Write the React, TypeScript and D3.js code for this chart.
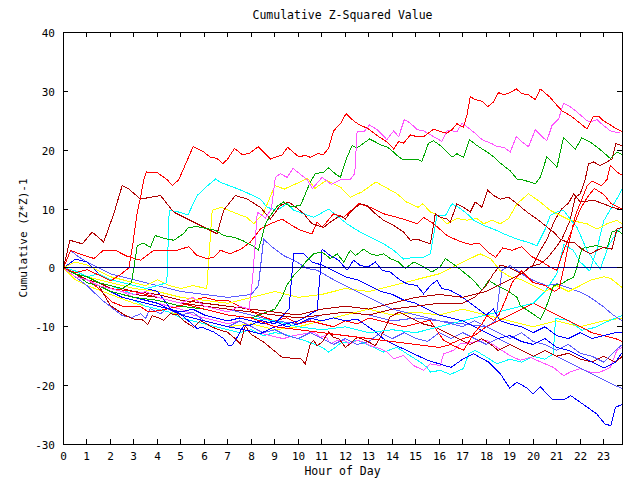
import React from "react";
import * as d3 from "d3";

type P = [number, number];

const TITLE = "Cumulative Z-Squared Value";
const X_LABEL = "Hour of Day";
const Y_LABEL = "Cumulative (Z*Z)-1";
const X_TICKS = d3.range(0, 24);
const Y_TICKS = [-30, -20, -10, 0, 10, 20, 30, 40];

const R1: P[] = [[0,0],[0.5,-0.8],[1,-0.3],[1.5,-1.2],[2,-2.2],[2.4,-1.2],[2.78,0],[2.95,4],[3.12,9],[3.28,12],[3.42,15],[3.53,16.3],[3.99,16.2],[4.41,15],[4.64,14],[4.91,15],[5.52,20.6],[5.97,19.7],[6.26,18.8],[6.54,18.6],[6.78,17.7],[6.97,18.4],[7.28,20.3],[7.6,19.3],[7.89,19.4],[8.29,20.6],[8.81,18.5],[9.31,19.2],[9.54,20.5],[10.01,18.9],[10.3,19.1],[10.51,18.8],[10.8,19.4],[11.08,19.3],[11.29,20.4],[11.5,23.3],[11.79,24.5],[12.03,26.2],[12.35,25],[12.64,24.2],[12.92,23.8],[13.35,22.5],[13.77,21.4],[14.06,20.2],[14.27,21.5],[14.48,21.2],[14.77,22.6],[15.05,22.3],[15.33,22.3],[15.76,23.6],[16.11,23.1],[16.33,22.9],[16.54,23.5],[16.75,24.5],[17.03,23.9],[17.18,26],[17.32,29.1],[17.53,28.6],[17.82,28.3],[18.06,27.4],[18.31,28.2],[18.52,29.8],[18.74,29.4],[19.02,29.8],[19.28,30.4],[19.52,29.6],[19.8,29.4],[20.09,28.6],[20.3,30.4],[20.69,29.1],[20.86,28.3],[21.22,26.7],[21.57,25.9],[21.93,24.8],[22.29,23.6],[22.57,25.8],[22.78,25.8],[22.99,25],[23.28,24.3],[23.56,23.6],[23.77,23.2]];

const M1: P[] = [[0,0],[0.5,-1.5],[1,-2],[1.5,-3],[2,-3.5],[2.5,-4],[3,-4.5],[3.5,-4],[4,-5],[4.5,-5.5],[5,-6],[5.5,-5],[6,-6.5],[6.5,-7],[7,-7.5],[7.5,-6.5],[7.9,-7],[8.05,-2],[8.25,9.5],[8.6,8.5],[8.85,10],[9.02,15.4],[9.23,16],[9.52,15.4],[9.77,16.9],[10.06,16],[10.37,15],[10.6,13.5],[11.01,15.4],[11.4,14.2],[11.8,15],[12.2,15],[12.4,16],[12.5,23.1],[12.78,23.1],[13.03,24.3],[13.35,23.5],[13.77,21.8],[14.06,23.3],[14.27,22.3],[14.51,25.2],[14.77,24.6],[15.05,23.5],[15.33,23.3],[15.76,22.3],[16.11,21.5],[16.33,23.3],[16.54,23.3],[16.75,23.1],[16.97,24.6],[17.46,23.1],[17.82,21.8],[18.24,21.1],[18.46,20.6],[18.74,20.5],[19.02,19.7],[19.28,22.3],[19.52,21.4],[19.8,20.6],[20.09,23.5],[20.37,22.3],[20.58,21.6],[20.8,24.2],[21.08,25.3],[21.29,28],[21.57,27.4],[21.86,26.5],[22.29,25],[22.43,24.8],[22.71,25.2],[22.99,24.2],[23.28,23.3],[23.7,22.9]];

const G1: P[] = [[0,0],[0.5,-1],[1,-1.5],[1.5,-2.5],[2,-3],[2.5,-3.5],[2.9,-2.5],[3.14,3.8],[3.4,4.2],[3.7,3.5],[3.9,5.5],[4.3,5],[4.7,4.7],[5.1,5.8],[5.33,6.9],[5.69,7],[6.47,6.4],[6.82,5.5],[7.25,5.2],[7.6,4.7],[8.03,3.8],[8.3,3],[8.6,7.5],[8.81,8.9],[9.1,10.5],[9.37,11.2],[9.66,10.4],[10.09,10.6],[10.51,14.6],[10.72,16],[10.86,16.1],[11.08,16.3],[11.29,17],[11.57,16],[11.79,15.4],[12.07,18.8],[12.29,20.8],[12.5,20.4],[12.78,21.2],[13.03,21.9],[13.28,21.4],[13.56,20.8],[13.77,20.6],[13.99,19.9],[14.2,19.1],[14.41,18.5],[14.77,18.4],[15.05,18.5],[15.26,18.1],[15.54,21.2],[15.76,21.6],[16.04,20.8],[16.44,19.3],[16.54,18.8],[16.75,19.4],[17.03,18.8],[17.29,21.8],[17.6,20.8],[18.03,19.7],[18.31,18.9],[18.6,17.8],[19.02,16.5],[19.33,15],[19.45,15.1],[20.09,14.3],[20.3,15.4],[20.58,18.9],[21.01,17.1],[21.29,22.2],[21.79,20.2],[22.07,22.1],[22.43,21.4],[22.85,20.1],[23.28,18.6],[23.56,19.7],[23.77,19.3]];

const DR1: P[] = [[0,0],[0.27,4.7],[0.8,4.1],[1.22,6.1],[1.71,4.4],[2.14,9.2],[2.5,14],[2.78,13.4],[3.28,11.7],[4.13,12.3],[4.69,9.5],[5.54,7.8],[6.54,5.8],[6.82,9.8],[7.32,12.3],[7.82,11.7],[8.38,10.3],[8.81,8.3],[9.23,10.6],[9.59,11.2],[9.8,10.6],[10.23,9.2],[10.58,7.5],[10.8,7.2],[11.08,6.9],[11.36,7.8],[11.79,8.9],[12,8.3],[12.29,9.8],[12.64,10.9],[12.92,10.6],[13.28,9.2],[13.63,8.1],[14.06,7.2],[14.48,6.1],[14.77,4.7],[15.05,4.9],[15.4,4.4],[15.62,4.1],[15.83,9.2],[16.04,8.6],[16.33,8.3],[16.47,7.8],[16.75,10.9],[17.03,10.3],[17.32,9.5],[17.53,11.2],[17.82,10.3],[18.06,13.2],[18.31,12.3],[18.6,11.7],[18.95,12],[19.31,10.9],[19.73,9.5],[20.16,8.3],[20.51,7.2],[20.86,6.1],[21.15,4.9],[21.43,4.4],[21.72,4.4],[22.07,3.2],[22.43,2.4],[22.71,3],[22.99,3.5],[23.35,3.2],[23.56,6.6],[23.77,6.9]];

const R2: P[] = [[0,0],[0.3,3],[0.6,2.5],[1.3,1.6],[1.7,3],[2.2,3],[2.7,2],[3.28,1.3],[3.84,3],[4.84,3],[5.33,3.6],[5.69,2.1],[6.11,1.6],[6.4,1.8],[6.68,3],[7.1,2.4],[7.6,3.3],[7.96,4.4],[8.38,6.6],[8.81,7.5],[9.31,8.3],[9.73,7.2],[10.09,6.4],[10.58,5.8],[10.8,7.8],[11.01,6.9],[11.5,9.2],[11.93,8.6],[12.57,10.9],[13.06,10.3],[13.63,9.2],[14.2,8.6],[14.63,8.1],[15.05,7.5],[15.33,8.6],[15.76,7.5],[16.33,5.5],[16.47,5.2],[16.9,4.5],[17.3,4],[17.7,4.2],[18.1,2.6],[18.4,1.8],[18.7,3.4],[19.1,3],[19.5,3.6],[19.9,2],[20.3,1.2],[20.7,0.2],[21,-0.4],[21.3,3],[21.6,6],[22,10],[22.3,12],[22.6,13.5],[23,12.5],[23.3,11],[23.6,10.4],[23.8,10]];

const DR2: P[] = [[0,0],[0.5,-1],[1,-2],[1.5,-2.5],[2,-3.5],[3,-4.5],[4,-5],[5,-6],[6,-6.5],[7,-7],[8,-7.5],[9,-8],[10,-8.5],[11,-8],[12,-7.5],[13,-8],[14,-7],[15,-6.5],[16,-6],[17,-6],[17.5,-5],[18,-3],[18.3,-1],[18.6,0.5],[19,0],[19.5,-1],[19.87,0.2],[20.3,0.7],[20.58,1.6],[20.87,3],[21.22,4.9],[21.57,8.1],[21.79,12],[22,12.6],[22.21,15],[22.35,17.7],[22.57,18],[22.85,17.4],[23.14,18],[23.35,18.5],[23.52,21.1],[23.77,20.8]];

const R3: P[] = [[0,0],[0.5,-1],[1,-1.5],[1.5,-2.5],[2,-3.5],[3,-4],[4,-5],[5,-6],[6,-7],[7,-8],[8,-8.5],[9,-10],[10,-10.5],[11,-11],[12,-11.5],[13,-12],[14,-12.5],[15,-13],[16,-13.5],[16.5,-13],[17.03,-14],[17.5,-11],[17.82,-9.5],[18.03,-8.1],[18.31,-8.9],[18.52,-8.1],[18.81,-5.5],[19.1,-2.5],[19.5,-0.5],[20,-2.5],[20.5,-3],[20.9,-4],[21.1,-3.5],[21.3,0],[21.5,4],[21.8,9],[22,11],[22.3,14],[22.5,14.8],[22.9,14],[23.14,15],[23.28,17.4],[23.56,16.3],[23.8,15.7]];

const DR3: P[] = [[0,0],[0.5,-1.5],[1,-2],[2,-3],[3,-4],[4,-4.5],[5,-5.5],[6,-6],[7,-6.5],[8,-7],[9,-7.5],[10,-8],[11,-7],[12,-6.5],[13,-7],[14,-6],[15,-5],[16,-4.5],[17,-5],[18,-4],[18.5,-3],[19,-2],[19.5,-1],[20,0.5],[20.3,3],[20.6,5],[20.9,8],[21.2,10],[21.5,11],[21.72,12.6],[22,11.2],[22.57,11.5],[22.99,10.9],[23.35,10.3],[23.56,10.1],[23.8,9.8]];

const G2: P[] = [[0,0],[0.5,-1],[1,-2.5],[1.5,-3],[2,-4],[3,-5],[4,-5.5],[5,-6.5],[6,-7],[7,-8],[8,-8.5],[9,-7],[9.3,-5],[9.5,-3],[9.8,-1.3],[10.09,-0.1],[10.37,1.3],[10.65,2.4],[11.01,2.7],[11.36,1.6],[11.65,2.4],[11.93,1],[12.21,3],[12.43,2.1],[12.78,3.2],[13.06,2.4],[13.35,2.1],[13.63,2.4],[13.91,1.6],[14.27,1],[14.55,-0.1],[14.91,1],[15.33,0.2],[15.69,-0.7],[16.04,0.2],[16.26,1.6],[16.47,1],[16.75,0.2],[17.03,-0.7],[17.46,-2.1],[17.82,-3.8],[18.1,-2.1],[18.45,-3],[18.88,-3.8],[19.31,-5],[19.45,-6.4],[19.87,-7.5],[20.3,-8.7],[20.5,-7.2],[20.65,-5.5],[20.86,-3],[21.22,-2.7],[21.43,-2.1],[21.72,-1.6],[21.86,0.2],[22.07,3.3],[22.43,3.6],[22.71,3.8],[23.14,3.3],[23.35,6.1],[23.56,6.4],[23.8,5.8]];

const C1: P[] = [[0,0],[0.5,-0.5],[1,-1.5],[1.5,-1],[2,-2],[2.5,-2.5],[3,-3],[3.5,-3.5],[4,-3],[4.4,-2.5],[4.5,9.8],[4.9,9.5],[5.3,9],[5.69,12.3],[6,13.5],[6.47,15.1],[6.7,14.5],[7.25,13.7],[7.74,12.9],[8.38,11.7],[8.67,10.3],[9.09,9.8],[9.52,10.9],[9.8,9.8],[10.23,9.2],[10.65,8.6],[11.29,10],[12.07,7.5],[12.5,6.4],[13.06,5.2],[13.63,4.1],[14.06,3],[14.48,1.5],[14.91,1.8],[15.33,1.8],[15.62,2.4],[15.9,8.9],[16.26,8.9],[16.54,10.9],[16.82,10.3],[17.18,9.2],[17.5,8],[17.89,7.2],[18.31,6.6],[18.74,5.8],[19.31,4.9],[19.73,4.4],[20.16,3.8],[20.51,6.6],[20.72,8.9],[21,9.5],[21.29,9.8],[21.57,8.3],[21.86,6.9],[22.29,3],[22.57,1.3],[22.85,-0.2],[23.21,3.8],[23.56,6.1],[23.77,6.9]];

const C2: P[] = [[0,0],[0.5,-1],[1,-2],[2,-3],[3,-4.5],[4,-5],[5,-6],[6,-7],[7,-8],[8,-8.5],[9,-9],[10,-10],[11,-10.5],[12,-10],[13,-11],[14,-10.5],[15,-11],[16,-10],[17,-9],[18,-8],[19,-7],[20,-6],[20.5,-4],[21,-1],[21.3,4],[21.7,3],[22,1],[22.4,-0.5],[22.7,3],[23,8],[23.3,10],[23.6,12],[23.8,13.5]];

const Y1: P[] = [[0,0],[0.5,1],[1,0.5],[1.5,-0.5],[2,-1.5],[2.5,-2],[3,-2.5],[3.5,-3],[4,-2],[4.5,-3],[5,-3.5],[5.5,-3],[6.1,-3.5],[6.33,9.8],[6.7,10.3],[7.39,9.2],[7.8,8.6],[8.1,7.5],[8.5,9.2],[9,14],[9.4,13.4],[9.9,14.3],[10.4,15.2],[10.7,13.5],[11.2,14.9],[11.8,13.7],[12.2,12],[12.7,12.9],[13.3,14.6],[13.8,13.5],[14.2,12.6],[14.6,11.2],[15.1,10.3],[15.3,10.9],[15.62,9.5],[15.97,8.9],[16.33,7.5],[16.75,8.4],[17.18,8.1],[17.6,8.4],[17.89,7.5],[18.24,8.1],[18.6,7.5],[18.95,8.4],[19.31,10.9],[19.8,12.6],[20.3,11.2],[20.72,9.8],[21.01,9.2],[21.57,8.1],[22.29,7.5],[22.71,6.6],[23.14,7.5],[23.56,8.1],[23.77,7.5]];

const Y2: P[] = [[0,0],[0.5,-1],[1,-1.5],[2,-2.5],[3,-3.5],[4,-4],[5,-5],[6,-5.5],[7,-6],[8,-5],[9,-4],[10,-5],[11,-4.5],[12,-3.5],[13,-4],[14,-3],[15,-2],[16,-1],[17,1],[17.74,2.4],[18.2,1.5],[18.6,-0.5],[19,-1.5],[19.5,-2],[20,-3],[20.5,-4],[21,-3],[21.5,-4],[22,-3],[22.5,-2],[23,-1.5],[23.3,-1.8],[23.77,-3.3]];

const Y3: P[] = [[0,0],[0.5,-2],[1,-3],[2,-4.5],[3,-6],[4,-7],[5,-8],[6,-9],[7,-10],[8,-9.5],[9,-10.5],[10,-10],[11,-9],[12,-8],[13,-7],[14,-8],[15,-7.5],[16,-8],[17,-7],[18,-8],[19,-9],[20,-10],[21,-9],[22,-10],[23,-9],[23.8,-8.5]];

const LB1: P[] = [[0,0],[0.5,-1.5],[1,-3],[1.65,-5.5],[2.5,-8.1],[2.92,-8.4],[3.28,-7.8],[3.49,-8.6],[3.7,-6.9],[4.13,-7.8],[4.41,-6.9],[5,-8],[5.5,-7.5],[6,-9],[6.5,-9.5],[7,-10],[7.5,-9],[8,-10],[8.5,-11],[9,-10.5],[9.5,-11.5],[10,-12],[10.5,-11],[11,-12],[11.5,-13],[12,-12],[12.5,-13],[13,-12.5],[13.5,-11],[14,-12],[14.5,-11],[15,-12],[15.5,-12.5],[16,-11],[16.5,-12],[17,-11],[17.5,-12],[18,-13],[18.5,-12],[19,-13],[19.5,-14],[20,-15],[20.5,-14],[21,-15],[21.5,-16],[22,-17],[22.5,-18],[23,-19],[23.5,-20],[23.8,-20.5]];

const LB2: P[] = [[0,0],[0.3,3],[0.6,2],[1,1],[1.5,0],[2,-1],[3,-2],[4,-3],[5,-4],[6,-4.5],[7,-5],[8,-4.5],[8.3,-3],[8.52,4.9],[8.81,3.8],[9.37,2.1],[9.94,1],[10.37,-0.1],[10.8,-0.4],[11.5,-2],[12,-3],[12.5,-4],[13,-5],[13.5,-6],[14,-7],[14.5,-7.5],[15,-8],[15.5,-8.5],[16,-9],[16.5,-9.5],[17,-10],[17.5,-9],[18,-10],[18.5,-11],[19,-12],[19.5,-11],[20,-12.5],[20.5,-13],[21,-14],[21.5,-13],[22,-14.5],[22.5,-15],[23,-16],[23.5,-14],[23.8,-13]];

const LB3: P[] = [[0,0],[1,-2],[2,-3],[3,-4],[4,-5],[5,-6],[6,-6.5],[7,-7],[8,-8],[9,-9],[10,-9.5],[11,-8],[12,-7.5],[13,-8],[14,-9],[15,-8.5],[16,-9],[17,-9.5],[18,-10],[18.4,-9],[18.67,-0.4],[19.02,0.4],[19.31,-0.4],[19.73,-1.6],[20.16,-2.4],[20.58,-3],[21.01,-2.7],[21.57,-3.5],[22,-4.1],[22.43,-5],[22.71,-5.8],[22.99,-6.6],[23.4,-8],[23.8,-9]];

const B1: P[] = [[0,0],[0.5,-1],[1,-2.5],[1.5,-3],[2,-4],[2.5,-5],[3,-5.5],[3.5,-6],[4,-6.5],[4.5,-7],[5,-7.5],[5.5,-7],[6,-8],[6.5,-8.5],[7,-9],[7.5,-8.5],[8,-9],[8.5,-9.5],[9,-9],[9.5,-10],[10,-9.5],[10.5,-8.5],[11,-9],[11.5,-8.5],[12,-9],[12.5,-8.7],[13.2,-10.6],[13.7,-12.3],[14.6,-14],[15.5,-15.7],[16.5,-16.9],[17,-15.5],[17.46,-14.6],[18.1,-16],[18.6,-18],[19,-20.4],[19.3,-19.4],[19.73,-20.4],[20,-21.4],[20.3,-20.2],[20.8,-22.3],[21.3,-22.4],[21.6,-21.7],[22.1,-23.1],[22.7,-24.8],[23.05,-26.5],[23.3,-26.8],[23.5,-23.7],[23.77,-23.2]];

const B2: P[] = [[0,0],[0.5,1.5],[1,1],[1.5,-1],[2,-2],[3,-3],[4,-4],[4.55,-6.9],[4.98,-7.8],[5.69,-10.3],[5.9,-10.1],[6.4,-10.9],[6.82,-12],[7.03,-13.2],[7.18,-13.1],[7.32,-12.3],[7.67,-9.8],[7.89,-9.8],[8.1,-9.5],[8.38,-8.9],[9,-9.5],[9.6,-7],[9.8,2.4],[10.23,2.4],[10.58,1],[11,0.5],[11.5,-0.5],[12,-1.5],[12.5,-2],[13,-3],[13.5,-4],[14,-4.5],[14.5,-5.5],[15,-6],[15.5,-7],[16,-8],[16.5,-8.5],[17,-9],[17.5,-10],[18,-11],[18.5,-12],[19,-11.5],[19.5,-12.5],[20,-13],[20.5,-12],[21,-13.5],[21.5,-14],[22,-15],[22.5,-16],[23,-17],[23.5,-16],[23.8,-14.3]];

const B3: P[] = [[0,0],[1,-2],[2,-4],[3,-5],[4,-6],[5,-8],[6,-9],[7,-10],[7.82,-10.6],[8.35,-11.2],[9,-10],[10,-9],[10.8,-7.2],[11.01,3.2],[11.36,2.1],[11.72,1.3],[12.07,-0.4],[12.35,1.3],[12.64,0.4],[12.99,0.2],[13.28,1],[13.56,-0.4],[13.91,-0.7],[14.34,-2.1],[14.63,-2.7],[15.05,-3],[15.33,-4.4],[15.62,-3],[15.9,-2.1],[16.11,-3.5],[16.47,-3.8],[17,-5],[17.5,-6.5],[18,-8],[18.3,-7],[18.6,-9],[19,-9.5],[19.5,-10],[20,-11],[20.5,-10],[21,-11.5],[21.5,-12],[22,-11],[22.5,-12],[23,-11.5],[23.5,-11],[23.8,-10.9]];

const M2: P[] = [[0,0],[0.5,-1],[1,-2],[1.5,-2.5],[2,-3.5],[2.5,-4],[3,-5],[3.5,-5.5],[4,-6],[4.5,-6.5],[5,-7],[5.5,-8],[6,-8.5],[6.5,-9],[7,-9.5],[7.5,-9],[7.96,-9.8],[8.52,-11.2],[9.09,-11.8],[9.37,-12],[9.8,-11.5],[10.23,-11.2],[10.65,-10.9],[10.94,-11.8],[11.15,-11.5],[11.36,-12.9],[11.65,-12.3],[11.93,-12.3],[12.2,-12.9],[12.5,-12.3],[12.78,-12.6],[13.06,-13.2],[13.49,-13.7],[13.77,-14.3],[14.06,-15.4],[14.48,-14.9],[14.91,-16.6],[15.33,-17.4],[15.62,-16.3],[16.04,-16.6],[16.18,-14.6],[16.6,-14],[16.89,-12.9],[17.46,-12.6],[18.03,-12.3],[18.46,-13.5],[19.02,-14.9],[19.45,-15.7],[19.87,-15.2],[20.16,-15.7],[20.51,-16.3],[20.86,-16.9],[21.29,-18.3],[21.57,-17.7],[22,-17.1],[22.43,-17.7],[22.85,-17.7],[23.28,-16.9],[23.56,-14],[23.77,-13.5]];

const C3: P[] = [[0,0],[0.5,-1.5],[1,-2],[1.5,-3],[2,-4],[2.5,-5],[3,-5.5],[3.5,-6.5],[4,-7],[4.5,-7.5],[5,-8.5],[5.5,-9],[6,-9.5],[6.5,-10],[7,-10.5],[7.5,-11],[8,-10.5],[8.5,-11.5],[9,-11],[9.37,-11.2],[9.8,-11.8],[10.23,-12.3],[10.65,-12.9],[11.01,-13.5],[11.29,-14.3],[11.57,-13.5],[11.86,-12.6],[12.2,-12.6],[12.5,-12.3],[12.85,-12.9],[13.2,-13.5],[13.63,-14.3],[14.2,-13.5],[14.63,-14.6],[15.19,-16],[15.48,-16.9],[15.62,-17.7],[16.04,-17.4],[16.47,-18.1],[17.03,-17.1],[17.25,-14.6],[17.53,-14],[18.03,-15.2],[18.46,-16.3],[19,-15.5],[19.5,-16],[20,-15],[20.5,-15.5],[20.85,-14.6],[20.95,-8.6],[21.5,-8.9],[22.07,-10.6],[22.65,-10.1],[23.1,-9.2],[23.77,-8.1]];

const DR4: P[] = [[0,0],[0.5,-1],[1,-2],[1.5,-3],[2,-6.4],[2.64,-8.1],[3.06,-8.8],[3.35,-8.8],[3.59,-9.6],[3.77,-8.1],[3.99,-8.4],[4.27,-8.9],[4.55,-7.8],[4.84,-7.9],[5.19,-9.2],[5.55,-10.1],[5.83,-8.9],[6.3,-10],[6.68,-10.6],[6.97,-10.9],[7.25,-11.8],[7.53,-12.9],[7.74,-9.8],[7.96,-11.2],[8.52,-12.6],[8.95,-14],[9.31,-15.2],[9.52,-15.2],[9.73,-15.4],[10.09,-15.4],[10.3,-16.3],[10.51,-12.9],[10.65,-12.3],[10.8,-13.2],[11.01,-12.6],[11.29,-10.9],[11.5,-11.8],[11.72,-12],[12,-13.5],[12.2,-12.9],[12.5,-11.8],[12.85,-12.3],[13.28,-13.2],[13.6,-11],[13.91,-8.3],[14.3,-7.5],[14.8,-8.5],[15.3,-9.5],[15.8,-10],[16.3,-11],[16.8,-12],[17.3,-13],[17.8,-12],[18.2,-13],[18.5,-14],[19,-13],[19.5,-14],[20,-15],[20.5,-14],[21,-15],[21.5,-14.5],[22,-15.5],[22.5,-16],[23,-15],[23.5,-16],[23.8,-15]];

const R4: P[] = [[0,0],[0.5,-1],[1,-2],[1.5,-3.5],[2.07,-5.8],[2.57,-6.6],[3.28,-6.6],[3.63,-7.5],[4.13,-7.2],[4.48,-6.9],[4.84,-6.6],[5.26,-6.1],[5.55,-5.5],[6,-5],[6.5,-5.5],[6.97,-5.5],[7.53,-6.6],[7.96,-7.2],[8.35,-8.1],[9,-9],[9.5,-8.5],[10,-9.5],[10.5,-9],[11,-9.5],[11.5,-10],[12,-9],[12.5,-9.5],[13,-8.5],[13.5,-9],[14,-9.5],[14.5,-10],[15,-9.5],[15.6,-8.9],[16.18,-12.3],[16.47,-12.9],[17,-12],[17.5,-11.5],[18,-10],[18.5,-9],[19,-8],[19.5,-7],[20,-6],[20.5,-7],[21,-8],[21.5,-9],[22,-10],[22.5,-11],[23,-11.5],[23.5,-12],[23.8,-12.5]];

const RED = "#ff0000";
const DRED = "#b00000";
const GREEN = "#00a800";
const MAG = "#ff55ff";
const CYAN = "#00ffff";
const YEL = "#ffff00";
const BLUE = "#0000ff";
const LBLUE = "#5c5cff";

const SERIES: { data: P[]; color: string }[] = [
  { data: Y3, color: YEL },
  { data: C3, color: CYAN },
  { data: M2, color: MAG },
  { data: LB1, color: LBLUE },
  { data: LB3, color: LBLUE },
  { data: R4, color: RED },
  { data: DR4, color: DRED },
  { data: B1, color: BLUE },
  { data: C2, color: CYAN },
  { data: Y2, color: YEL },
  { data: LB2, color: LBLUE },
  { data: B3, color: BLUE },
  { data: B2, color: BLUE },
  { data: G2, color: GREEN },
  { data: DR3, color: DRED },
  { data: R3, color: RED },
  { data: DR2, color: DRED },
  { data: Y1, color: YEL },
  { data: C1, color: CYAN },
  { data: R2, color: RED },
  { data: DR1, color: DRED },
  { data: G1, color: GREEN },
  { data: M1, color: MAG },
  { data: R1, color: RED },
];

const FONT = "'DejaVu Sans Mono', monospace";

export default function App() {
  const left = 63, right = 622, top = 32, bottom = 444;
  const x = d3.scaleLinear().domain([0, 23.8]).range([left, right]);
  const y = d3.scaleLinear().domain([-30, 40]).range([bottom, top]);
  const line = d3.line<P>().x((d) => x(d[0]) + 0.5).y((d) => y(d[1]) + 0.5);
  const tick = 5;
  return (
    <svg width={640} height={480} style={{ position: "fixed", left: 0, top: 0, background: "#fff" }}>
      <rect x={0} y={0} width={640} height={480} fill="#fff" />
      <defs>
        <clipPath id="clip"><rect x={left} y={top} width={right - left + 1} height={bottom - top} /></clipPath>
      </defs>
      <g clipPath="url(#clip)">
        {SERIES.map((s, i) => (
          <path key={i} d={line(s.data) || ""} fill="none" stroke={s.color} strokeWidth={1} shapeRendering="crispEdges" />
        ))}
      </g>
      <line x1={left} x2={right} y1={Math.round(y(0)) + 0.5} y2={Math.round(y(0)) + 0.5} stroke="#000080" strokeWidth={1} shapeRendering="crispEdges" />
      <rect x={left + 0.5} y={top + 0.5} width={right - left} height={bottom - top} fill="none" stroke="#000" strokeWidth={1} shapeRendering="crispEdges" />
      {X_TICKS.map((t) => {
        const px = Math.round(x(t)) + 0.5;
        return (
          <g key={"x" + t}>
            <line x1={px} x2={px} y1={bottom} y2={bottom - tick} stroke="#000" shapeRendering="crispEdges" />
            <line x1={px} x2={px} y1={top} y2={top + tick} stroke="#000" shapeRendering="crispEdges" />
            <text x={px} y={460} textAnchor="middle" fontFamily={FONT} fontSize={11} fill="#000">{t}</text>
          </g>
        );
      })}
      {Y_TICKS.map((t) => {
        const py = Math.round(y(t)) + 0.5;
        return (
          <g key={"y" + t}>
            <line x1={left} x2={left + tick} y1={py} y2={py} stroke="#000" shapeRendering="crispEdges" />
            <line x1={right} x2={right - tick} y1={py} y2={py} stroke="#000" shapeRendering="crispEdges" />
            <text x={55} y={py + 4} textAnchor="end" fontFamily={FONT} fontSize={11} fill="#000">{t}</text>
          </g>
        );
      })}
      <text x={(left + right) / 2} y={19} textAnchor="middle" fontFamily={FONT} fontSize={11.5} fill="#000">{TITLE}</text>
      <text x={(left + right) / 2} y={475} textAnchor="middle" fontFamily={FONT} fontSize={11.5} fill="#000">{X_LABEL}</text>
      <text transform={`translate(27, ${(top + bottom) / 2}) rotate(-90)`} textAnchor="middle" fontFamily={FONT} fontSize={11} fill="#000">{Y_LABEL}</text>
    </svg>
  );
}
